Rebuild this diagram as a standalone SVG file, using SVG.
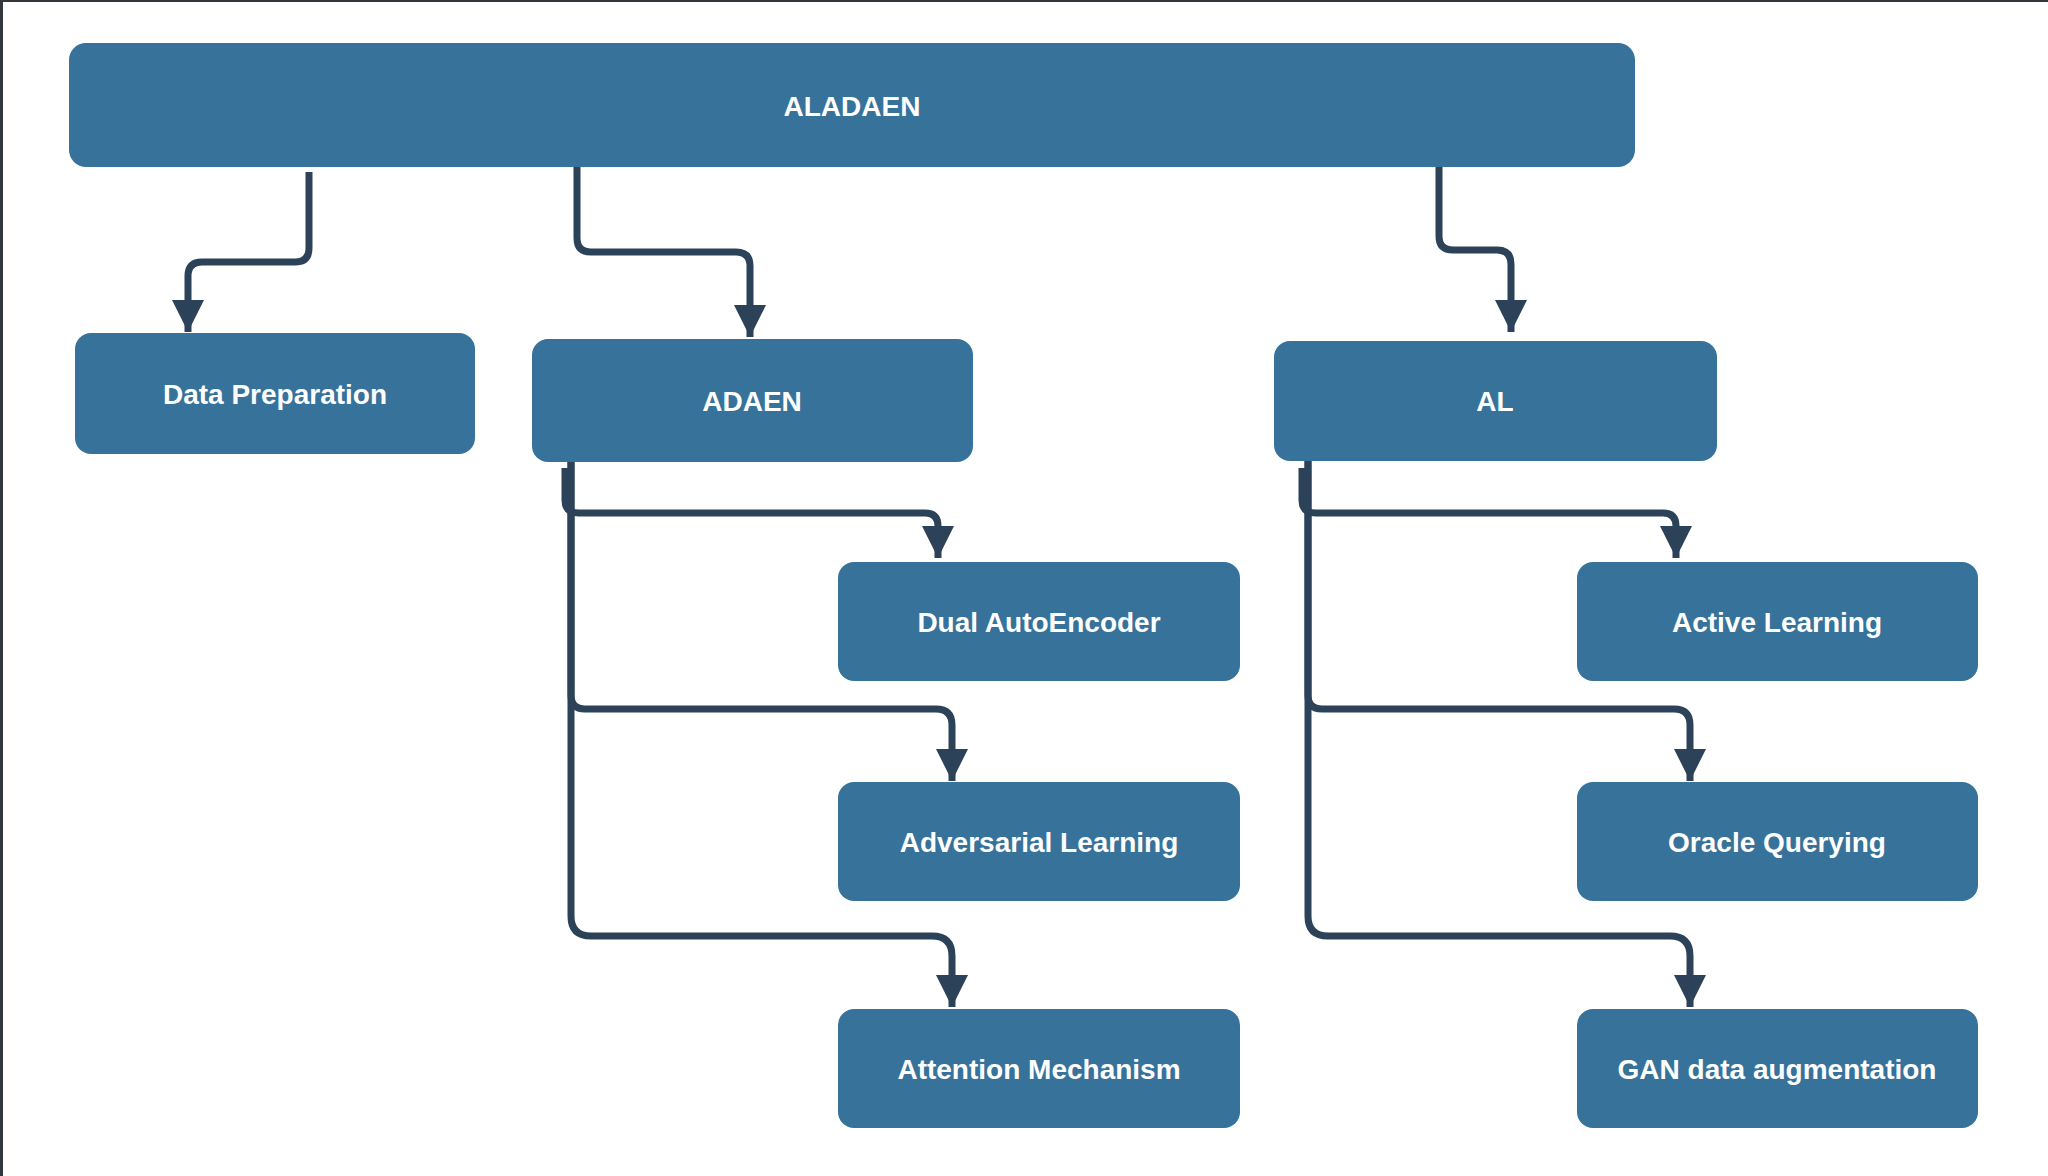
<svg xmlns="http://www.w3.org/2000/svg" width="2048" height="1176" viewBox="0 0 2048 1176">
<style>
.node rect{fill:#37729b}
.node text{fill:#ffffff;font-family:"Liberation Sans",Arial,sans-serif;font-weight:bold;font-size:28px;text-anchor:middle}
.conn path{fill:none;stroke:#2c4259;stroke-width:7;stroke-linejoin:round}
</style>
<defs>
<marker id="arr" viewBox="0 0 32 32" refX="32" refY="16" markerWidth="32" markerHeight="32" markerUnits="userSpaceOnUse" orient="auto">
<path d="M0,0 L32,16 L0,32 z" fill="#2c4259"/>
</marker>
</defs>
<rect x="0" y="0" width="2048" height="1176" fill="#ffffff"/>
<rect x="0" y="0" width="2048" height="2" fill="#33383d"/>
<rect x="0" y="0" width="3" height="1176" fill="#33383d"/>

<g class="conn">
<path d="M309,172 V248 Q309,262 295,262 H202 Q188,262 188,276 V332" marker-end="url(#arr)"/>
<path d="M577,167 V238 Q577,252 591,252 H736 Q750,252 750,266 V337" marker-end="url(#arr)"/>
<path d="M1439,167 V236 Q1439,250 1453,250 H1497 Q1511,250 1511,264 V332" marker-end="url(#arr)"/>
<path d="M565,468 V500 Q565,513 579,513 H925 Q938,513 938,526 V558" marker-end="url(#arr)"/>
<path d="M571,461 V695 Q571,709 585,709 H936 Q952,709 952,725 V781" marker-end="url(#arr)"/>
<path d="M571,461 V916 Q571,936 591,936 H932 Q952,936 952,956 V1007" marker-end="url(#arr)"/>
<path d="M1302,468 V500 Q1302,513 1316,513 H1663 Q1676,513 1676,526 V558" marker-end="url(#arr)"/>
<path d="M1308,461 V695 Q1308,709 1322,709 H1674 Q1690,709 1690,725 V781" marker-end="url(#arr)"/>
<path d="M1308,461 V916 Q1308,936 1328,936 H1670 Q1690,936 1690,956 V1007" marker-end="url(#arr)"/>
</g>

<g id="aladaen" class="node"><rect x="69" y="43" width="1566" height="124" rx="17"/><text x="852" y="116">ALADAEN</text></g>
<g id="data-preparation" class="node"><rect x="75" y="333" width="400" height="121" rx="16"/><text x="275" y="404">Data Preparation</text></g>
<g id="adaen" class="node"><rect x="532" y="339" width="441" height="123" rx="16"/><text x="752" y="411">ADAEN</text></g>
<g id="al" class="node"><rect x="1274" y="341" width="443" height="120" rx="16"/><text x="1495" y="411">AL</text></g>
<g id="dual-autoencoder" class="node"><rect x="838" y="562" width="402" height="119" rx="16"/><text x="1039" y="632">Dual AutoEncoder</text></g>
<g id="adversarial-learning" class="node"><rect x="838" y="782" width="402" height="119" rx="16"/><text x="1039" y="852">Adversarial Learning</text></g>
<g id="attention-mechanism" class="node"><rect x="838" y="1009" width="402" height="119" rx="16"/><text x="1039" y="1079">Attention Mechanism</text></g>
<g id="active-learning" class="node"><rect x="1577" y="562" width="401" height="119" rx="16"/><text x="1777" y="632">Active Learning</text></g>
<g id="oracle-querying" class="node"><rect x="1577" y="782" width="401" height="119" rx="16"/><text x="1777" y="852">Oracle Querying</text></g>
<g id="gan-data-augmentation" class="node"><rect x="1577" y="1009" width="401" height="119" rx="16"/><text x="1777" y="1079">GAN data augmentation</text></g>
</svg>
